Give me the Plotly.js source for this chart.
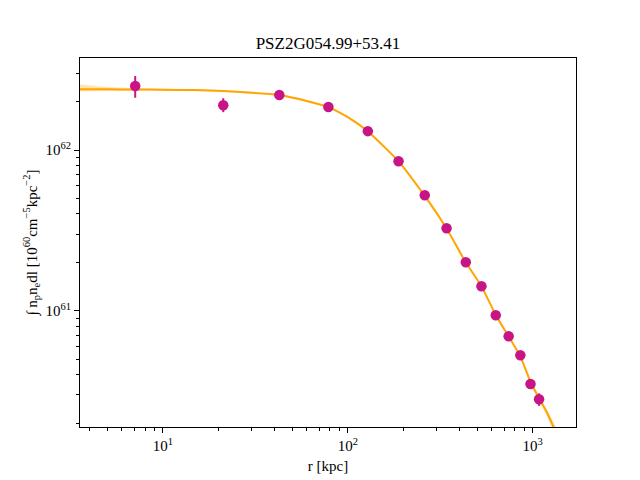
<!DOCTYPE html>
<html>
<head>
<meta charset="utf-8">
<script src="https://cdn.plot.ly/plotly-3.0.1.min.js"></script>
<style>html,body{margin:0;padding:0;background:#fff;}#chart{width:640px;height:480px;}</style>
</head>
<body>
<div id="chart"></div>
<script>
// Measured profile points
const rData = [7.08, 21.2, 42.6, 78.5, 128.3, 188, 260.6, 342, 434.5, 528, 631, 741, 857, 973, 1082];
const yData = [2.50e62, 1.90e62, 2.20e62, 1.85e62, 1.31e62, 8.51e61, 5.23e61, 3.26e61, 2.00e61, 1.42e61, 9.36e60, 6.93e60, 5.28e60, 3.50e60, 2.81e60];
const errPlus = [0.385e62, 0.20e62, 0.02e62, 0.015e62, 0.01e62, 0.05e61, 0.03e61, 0.02e61, 0.1e60, 0.1e60, 0.1e60, 0.1e60, 0.1e60, 0.22e60, 0.25e60];
const errMinus = [0.385e62, 0.18e62, 0.02e62, 0.015e62, 0.01e62, 0.05e61, 0.03e61, 0.02e61, 0.1e60, 0.1e60, 0.1e60, 0.1e60, 0.1e60, 0.22e60, 0.25e60];

// Model curve and its uncertainty band
const rModel = [3.56, 5, 7, 10, 15, 21, 30, 42.6, 60, 78.5, 100, 128, 188, 260, 342, 434, 528, 631, 741, 857, 973, 1082, 1200, 1292, 1450];
const yModel = [2.39e62, 2.385e62, 2.38e62, 2.37e62, 2.36e62, 2.33e62, 2.27e62, 2.20e62, 2.02e62, 1.85e62, 1.60e62, 1.31e62, 8.5e61, 5.2e61, 3.25e61, 2.0e61, 1.42e61, 9.4e60, 6.9e60, 5.2e60, 3.6e60, 2.85e60, 2.3e60, 1.9e60, 1.45e60];
const bandHi = [2.56e62, 2.47e62, 2.42e62, 2.40e62, 2.39e62, 2.36e62, 2.30e62, 2.23e62, 2.05e62, 1.88e62, 1.62e62, 1.33e62, 8.62e61, 5.28e61, 3.30e61, 2.03e61, 1.44e61, 9.55e60, 7.02e60, 5.31e60, 3.70e60, 2.96e60, 2.40e60, 2.04e60, 1.60e60];
const bandLo = [2.31e62, 2.33e62, 2.34e62, 2.34e62, 2.33e62, 2.30e62, 2.24e62, 2.17e62, 1.99e62, 1.82e62, 1.58e62, 1.29e62, 8.38e61, 5.12e61, 3.20e61, 1.97e61, 1.40e61, 9.25e60, 6.78e60, 5.09e60, 3.50e60, 2.74e60, 2.18e60, 1.77e60, 1.32e60];

// Tick labels
const xTickVals = [10, 100, 1000];
const xTickText = ['10<sup>1</sup>', '10<sup>2</sup>', '10<sup>3</sup>'];
const xMinorVals = [4,5,6,7,8,9,20,30,40,50,60,70,80,90,200,300,400,500,600,700,800,900];
const yTickVals = [1e61, 1e62];
const yTickText = ['10<sup>61</sup>', '10<sup>62</sup>'];
const yMinorVals = [2e60,3e60,4e60,5e60,6e60,7e60,8e60,9e60,2e61,3e61,4e61,5e61,6e61,7e61,8e61,9e61,2e62,3e62];

const titleText = 'PSZ2G054.99+53.41';
const xTitle = 'r [kpc]';
const yTitle = '∫ n<sub>p</sub>n<sub>e</sub>dl [10<sup>60</sup>cm<sup>−5</sup>kpc<sup>−2</sup>]';

const FONT = "'Liberation Serif', 'Times New Roman', serif";
const orange = '#FFA500';
const magenta = '#C71585';

const traces = [
  {x: rModel, y: bandLo, type: 'scatter', mode: 'lines', line: {width: 0, color: 'rgba(255,165,0,0)'}, showlegend: false, hoverinfo: 'skip'},
  {x: rModel, y: bandHi, type: 'scatter', mode: 'lines', fill: 'tonexty', fillcolor: 'rgba(255,165,0,0.3)', line: {width: 0, color: 'rgba(255,165,0,0)'}, showlegend: false, hoverinfo: 'skip'},
  {x: rModel, y: yModel, type: 'scatter', mode: 'lines', line: {color: orange, width: 2, shape: 'spline', smoothing: 0.6}, showlegend: false},
  {x: rData, y: yData, type: 'scatter', mode: 'markers',
   marker: {color: magenta, size: 10.5},
   error_y: {type: 'data', symmetric: false, array: errPlus, arrayminus: errMinus, color: magenta, thickness: 2, width: 0},
   showlegend: false}
];

const axisCommon = {
  type: 'log', showgrid: false, zeroline: false, showline: true, linecolor: '#000', linewidth: 1,
  mirror: true, ticks: 'outside', ticklen: 5, tickwidth: 1, tickcolor: '#000',
  tickmode: 'array', tickfont: {family: FONT, size: 15, color: '#000'}
};

const layout = {
  width: 640, height: 480,
  margin: {l: 80, r: 64, t: 58, b: 53},
  paper_bgcolor: '#fff', plot_bgcolor: '#fff',
  font: {family: FONT, color: '#000'},
  title: {text: titleText, font: {family: FONT, size: 17, color: '#000'}, x: 0.5125, xanchor: 'center', yref: 'container', y: 1 - 43/480, yanchor: 'middle'},
  xaxis: Object.assign({}, axisCommon, {
    range: [Math.log10(3.56), Math.log10(1714)],
    tickvals: xTickVals, ticktext: xTickText,
    minor: {tickmode: 'array', tickvals: xMinorVals, ticks: 'outside', ticklen: 3, tickwidth: 1, tickcolor: '#000', showgrid: false},
    title: {text: xTitle, font: {family: FONT, size: 15, color: '#000'}, standoff: 7}
  }),
  yaxis: Object.assign({}, axisCommon, {
    range: [60.2763, 62.5725],
    tickvals: yTickVals, ticktext: yTickText,
    minor: {tickmode: 'array', tickvals: yMinorVals, ticks: 'outside', ticklen: 3, tickwidth: 1, tickcolor: '#000', showgrid: false},
    title: {text: yTitle, font: {family: FONT, size: 15, color: '#000'}, standoff: 4}
  })
};

Plotly.newPlot('chart', traces, layout, {displayModeBar: false, staticPlot: true});
</script>
</body>
</html>
